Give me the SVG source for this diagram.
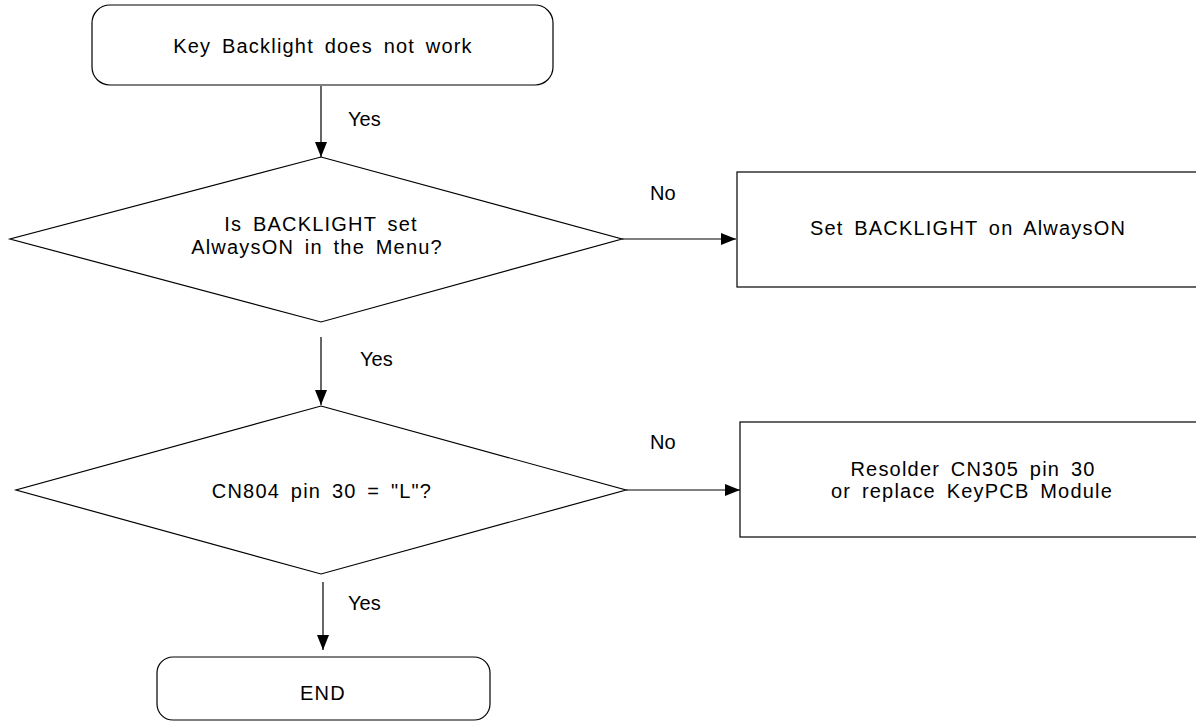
<svg xmlns="http://www.w3.org/2000/svg" width="1196" height="723" viewBox="0 0 1196 723">
<style>
.s{fill:#fff;stroke:#000;stroke-width:1.2}
.t{font-family:"Liberation Sans",Arial,sans-serif;font-size:20px;letter-spacing:1.2px;word-spacing:4px;fill:#000;text-anchor:middle}
.l{font-family:"Liberation Sans",Arial,sans-serif;font-size:20px;fill:#000}
.c{stroke:#000;stroke-width:1.2;fill:none;marker-end:url(#a)}
</style>
<defs>
<marker id="a" markerWidth="15" markerHeight="12" refX="15" refY="6" orient="auto" markerUnits="userSpaceOnUse" viewBox="0 0 15 12">
<path d="M0,0 L15,6 L0,12 Z" fill="#000"/>
</marker>
</defs>
<rect width="1196" height="723" fill="#fff"/>
<g id="connectors">
<line class="c" x1="321" y1="86" x2="321" y2="157"/>
<line class="c" x1="622" y1="239" x2="736" y2="239"/>
<line class="c" x1="321" y1="337" x2="321" y2="405"/>
<line class="c" x1="626" y1="490" x2="740" y2="490"/>
<line class="c" x1="323" y1="582" x2="323" y2="650"/>
<text class="l" x="348" y="126">Yes</text>
<text class="l" x="650" y="200">No</text>
<text class="l" x="360" y="366">Yes</text>
<text class="l" x="650" y="449">No</text>
<text class="l" x="348" y="610">Yes</text>
</g>
<g id="start">
<rect class="s" x="92" y="5" width="461" height="80" rx="18"/>
<text class="t" x="323" y="53">Key Backlight does not work</text>
</g>
<g id="decision1">
<polygon class="s" points="321,157 622,239 321,322 10,239"/>
<text class="t" x="321" y="231">Is BACKLIGHT set</text>
<text class="t" x="317" y="254">AlwaysON in the Menu?</text>
</g>
<g id="action1">
<rect class="s" x="737" y="172" width="470" height="115"/>
<text class="t" x="968" y="235">Set BACKLIGHT on AlwaysON</text>
</g>
<g id="decision2">
<polygon class="s" points="321,406 626,490 321,574 16,490"/>
<text class="t" x="322" y="498">CN804 pin 30 = "L"?</text>
</g>
<g id="action2">
<rect class="s" x="740" y="422" width="470" height="115"/>
<text class="t" x="973" y="476">Resolder CN305 pin 30</text>
<text class="t" x="972" y="498">or replace KeyPCB Module</text>
</g>
<g id="end">
<rect class="s" x="157" y="657" width="333" height="63" rx="16"/>
<text class="t" x="323" y="700">END</text>
</g>
</svg>
